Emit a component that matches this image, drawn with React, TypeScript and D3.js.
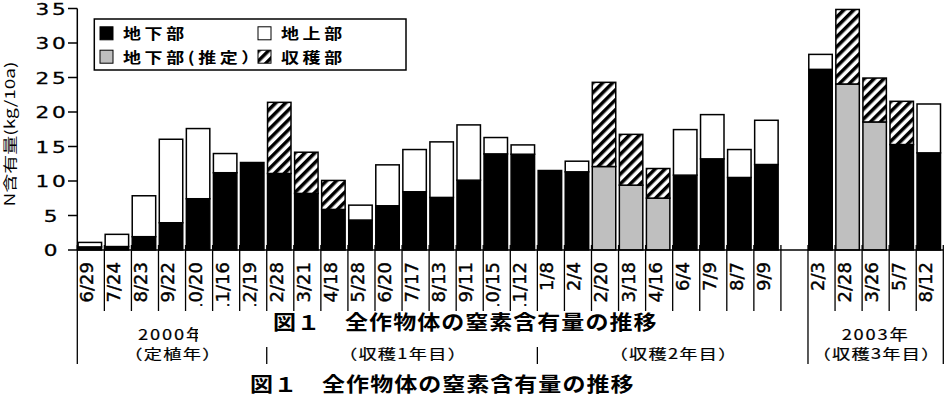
import React from 'react';
import * as d3 from 'd3';

// sampling dates (one empty slot between 2002 and 2003)
const dates = [
  '6/29', '7/24', '8/23', '9/22', '10/20', '11/16', '12/19',
  '2/28', '3/21', '4/18', '5/28', '6/20', '7/17', '8/13', '9/11', '10/15', '11/12',
  '1/8', '2/4', '2/20', '3/18', '4/16', '6/4', '7/9', '8/7', '9/9',
  '',
  '2/3', '2/28', '3/26', '5/7', '8/12'
];

// N content (kg/10a) per part
const below = [0.45, 0.5, 1.93, 3.95, 7.43, 11.2, 12.68, 11.09, 8.2, 5.88, 4.34, 6.41, 8.44, 7.62, 10.12, 13.93, 13.88, 11.52, 11.33, 0, 0, 0, 10.85, 13.21, 10.51, 12.39, 0, 26.18, 0, 0, 15.28, 14.08];
const belowEst = [0, 0, 0, 0, 0, 0, 0, 0, 0, 0, 0, 0, 0, 0, 0, 0, 0, 0, 0, 12.1, 9.4, 7.52, 0, 0, 0, 0, 0, 0, 24.06, 18.56, 0, 0];
const above = [0.65, 1.77, 5.93, 12.1, 10.17, 2.78, 0, 0, 0, 0, 2.16, 5.93, 6.12, 8.05, 8.01, 2.37, 1.35, 0, 1.54, 0, 0, 0, 6.6, 6.41, 4.05, 6.41, 0, 2.17, 0, 0, 0, 7.08];
const harvest = [0, 0, 0, 0, 0, 0, 0, 10.31, 5.97, 4.2, 0, 0, 0, 0, 0, 0, 0, 0, 0, 12.2, 7.36, 4.29, 0, 0, 0, 0, 0, 0, 10.8, 6.36, 6.27, 0];

const yTicks = [0, 5, 10, 15, 20, 25, 30, 35];

const legendLabels = ['地下部', '地上部', '地下部(推定）', '収穫部'];
const legendKeys = ['below', 'above', 'belowEst', 'harvest'];

const yearLabels = ['2000年', '2003年'];
const yearSlots = [[0, 7], [27, 32]];
const periodLabels = ['（定植年）', '（収穫1年目）', '（収穫2年目）', '（収穫3年目）'];
const periodSlots = [[0, 7], [7, 17], [17, 27], [27, 32]];
const blockEdges = [0, 27, 32];
const periodMarks = [7, 17];

const title = '図１　全作物体の窒素含有量の推移';

const W = 945;
const H = 398;
const jp = "'Noto Sans CJK JP', sans-serif";
const num = "'DejaVu Sans', 'Noto Sans CJK JP', sans-serif";

const keys = ['below', 'belowEst', 'above', 'harvest'];
const fills: Record<string, string> = {
  below: '#000',
  belowEst: '#bfbfbf',
  above: '#fff',
  harvest: 'url(#hatch)'
};

function Txt(props: any) {
  const { x, y, sx = 1, rot = 0, anchor = 'start', size, family = jp, weight = 'normal', ls = 0, children, ...rest } = props;
  return (
    <text
      transform={`translate(${x},${y}) rotate(${rot}) scale(${sx},1)`}
      textAnchor={anchor}
      fontSize={size}
      fontFamily={family}
      fontWeight={weight}
      letterSpacing={ls}
      fill="#000"
      {...rest}
    >
      {children}
    </text>
  );
}

export default function App() {
  const x = d3.scaleBand<number>()
    .domain(d3.range(dates.length))
    .range([77.3, 943.3])
    .paddingInner(0);
  const y = d3.scaleLinear().domain([0, 35]).range([250, 8.5]);
  const bw = x.bandwidth();

  const rows = dates.map((d, i) => ({
    i,
    below: below[i],
    belowEst: belowEst[i],
    above: above[i],
    harvest: harvest[i]
  }));
  const series = d3.stack<any>().keys(keys)(rows);

  const edge = (i: number) => (i < dates.length ? x(i)! : x(dates.length - 1)! + bw);
  const axisY = y(0);

  return (
    <svg width={W} height={H} style={{ position: 'absolute', left: 0, top: 0, background: '#fff' }}>
      <defs>
        <pattern id="hatch" patternUnits="userSpaceOnUse" width="7" height="7" patternTransform="rotate(45)">
          <rect width="7" height="7" fill="#fff" />
          <rect width="3.5" height="7" fill="#000" />
        </pattern>
        <clipPath id="dateClip">
          <rect x="0" y="255" width={W} height="51" />
        </clipPath>
        <clipPath id="yearClip">
          <rect x="0" y="310" width="198" height="40" />
          <rect x="600" y="310" width="345" height="40" />
        </clipPath>
      </defs>

      {/* bars */}
      {series.map(s => (
        <g key={s.key}>
          {s.map((d: any, i: number) =>
            d[1] - d[0] > 0 ? (
              <rect
                key={i}
                x={x(i)! + 0.8}
                y={y(d[1])}
                width={bw - 3.6}
                height={y(d[0]) - y(d[1])}
                fill={fills[s.key]}
                stroke="#000"
                strokeWidth={1.5}
              />
            ) : null
          )}
        </g>
      ))}

      {/* y axis */}
      <line x1={77.3} x2={77.3} y1={y(35)} y2={axisY} stroke="#000" strokeWidth={1.5} />
      {yTicks.map(t => (
        <g key={t}>
          <line x1={68} x2={77.3} y1={y(t)} y2={y(t)} stroke="#000" strokeWidth={1.5} />
          <Txt x={52} y={y(t) + 6} size={16} family={num} sx={1.35} ls={2} anchor="middle" stroke="#000" strokeWidth={0.3}>{t}</Txt>
        </g>
      ))}
      <text
        transform={`translate(15,134) rotate(-90)`}
        textAnchor="middle"
        fontSize={14}
        fontFamily={jp}
        textLength={145}
        lengthAdjust="spacingAndGlyphs"
      >
        N含有量(kg/10a)
      </text>

      {/* x axis and slot separators */}
      <line x1={77.3} x2={943.3} y1={axisY} y2={axisY} stroke="#000" strokeWidth={1.5} />
      {d3.range(dates.length + 1).map(i => (
        <line
          key={i}
          x1={edge(i)}
          x2={edge(i)}
          y1={axisY - 5}
          y2={blockEdges.includes(i) ? 364 : 311}
          stroke="#000"
          strokeWidth={1.3}
        />
      ))}
      {periodMarks.map(i => (
        <line key={i} x1={edge(i)} x2={edge(i)} y1={347} y2={364} stroke="#000" strokeWidth={1.3} />
      ))}

      {/* date labels: top-aligned, overflow cut at the bottom of the cell */}
      <g clipPath="url(#dateClip)">
        {dates.map((d, i) =>
          d ? (
            <Txt
              key={i}
              x={x(i)! + 16}
              y={262}
              rot={-90}
              anchor="end"
              size={18}
              family={num}
              stroke="#000"
              strokeWidth={0.4}
            >
              {d}
            </Txt>
          ) : null
        )}
      </g>

      {/* year / period labels */}
      <g clipPath="url(#yearClip)">
        {yearLabels.map((l, k) => (
          <Txt key={l} x={(edge(yearSlots[k][0]) + edge(yearSlots[k][1])) / 2} y={340} size={15} sx={1.22} ls={1.5} anchor="middle" stroke="#000" strokeWidth={0.2}>
            {l}
          </Txt>
        ))}
      </g>
      {periodLabels.map((l, k) => (
        <Txt key={l} x={(edge(periodSlots[k][0]) + edge(periodSlots[k][1])) / 2 + 1} y={359} size={14} sx={1.3} ls={1} anchor="middle" stroke="#000" strokeWidth={0.2}>
          {l}
        </Txt>
      ))}

      {/* captions */}
      <Txt x={273} y={330} size={20} sx={1.15} ls={0.9} weight="bold">{title}</Txt>
      <Txt x={250} y={392} size={20} sx={1.15} ls={0.9} weight="bold">{title}</Txt>

      {/* legend */}
      <rect x={94.3} y={19} width={311.7} height={51} fill="#fff" stroke="#000" strokeWidth={1.5} />
      {legendLabels.map((l, k) => {
        const lx = k % 2 === 0 ? 100 : 258;
        const ly = k < 2 ? 33.3 : 56.7;
        return (
          <g key={l}>
            <rect x={lx} y={ly - 6.5} width={13} height={13} fill={fills[legendKeys[k]]} stroke="#000" strokeWidth={1} />
            <Txt x={lx + 23} y={ly + 6} size={15} sx={1.2} ls={3} weight="bold">{l}</Txt>
          </g>
        );
      })}
    </svg>
  );
}
